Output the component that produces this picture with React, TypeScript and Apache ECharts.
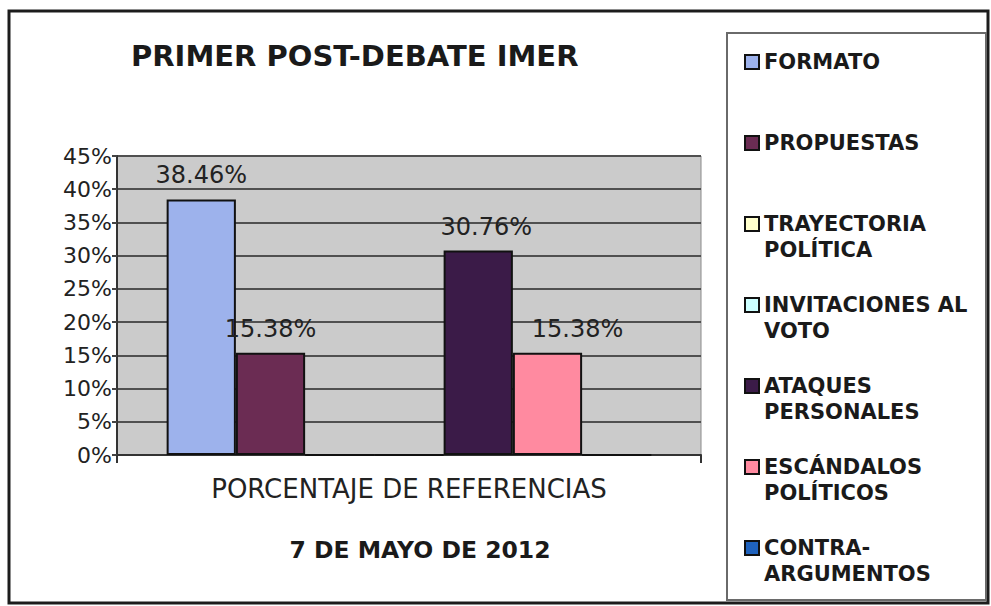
import React, { useEffect, useRef } from "react";
import * as echarts from "echarts";

const categories = ["PORCENTAJE DE REFERENCIAS"];
const seriesNames = [
  "FORMATO",
  "PROPUESTAS",
  "TRAYECTORIA POLÍTICA",
  "INVITACIONES AL VOTO",
  "ATAQUES PERSONALES",
  "ESCÁNDALOS POLÍTICOS",
  "CONTRA-ARGUMENTOS",
];
const legendLines = [
  ["FORMATO"],
  ["PROPUESTAS"],
  ["TRAYECTORIA", "POLÍTICA"],
  ["INVITACIONES AL", "VOTO"],
  ["ATAQUES", "PERSONALES"],
  ["ESCÁNDALOS", "POLÍTICOS"],
  ["CONTRA-", "ARGUMENTOS"],
];
const values = [38.46, 15.38, 0, 0, 30.76, 15.38, 0];
const colors = ["#9db2ec", "#6b2c53", "#ffffcc", "#ccffff", "#3b1b48", "#ff8aa0", "#1f62bd"];
const labelShiftX = [0, 0, 0, 0, 8, 30, 0];
const yMin = 0;
const yMax = 45;
const yStep = 5;
const titleText = "PRIMER POST-DEBATE IMER";
const dateText = "7 DE MAYO DE 2012";

const FONT = "DejaVu Sans";

export default function App() {
  const ref = useRef<HTMLDivElement>(null);
  useEffect(() => {
    if (!ref.current) return;
    const chart = echarts.init(ref.current, undefined, { renderer: "svg" });
    const legendText = (name: string) => {
      const lines = legendLines[seriesNames.indexOf(name)];
      const body = lines.length === 1 ? [lines[0], " "] : lines;
      return [" ", ...body].join("\n");
    };
    chart.setOption({
      animation: false,
      backgroundColor: "#ffffff",
      grid: {
        left: 117,
        right: 991 - 701,
        top: 156,
        bottom: 606 - 455,
        show: true,
        backgroundColor: "#cbcbcb",
        borderColor: "#8a8a8a",
        borderWidth: 1,
      },
      xAxis: {
        type: "category",
        data: categories,
        axisLine: { show: true, lineStyle: { color: "#333", width: 2 } },
        axisTick: { show: true, length: 8, lineStyle: { color: "#333", width: 2 } },
        axisLabel: {
          margin: 21,
          fontFamily: FONT,
          fontSize: 26,
          color: "#222",
        },
      },
      yAxis: {
        type: "value",
        min: yMin,
        max: yMax,
        interval: yStep,
        axisLine: { show: true, lineStyle: { color: "#333", width: 2 } },
        axisTick: { show: true, length: 5, lineStyle: { color: "#444", width: 2 } },
        splitLine: { show: true, lineStyle: { color: "#505050", width: 2 } },
        axisLabel: {
          margin: 5,
          formatter: "{value}%",
          fontFamily: FONT,
          fontSize: 22,
          color: "#222",
        },
      },
      legend: {
        orient: "vertical",
        left: 744,
        top: 23,
        padding: 0,
        itemGap: 3,
        itemWidth: 14,
        itemHeight: 14,
        icon: "rect",
        selectedMode: false,
        data: seriesNames,
        formatter: legendText,
        textStyle: {
          fontFamily: FONT,
          fontWeight: "bold",
          fontSize: 21,
          lineHeight: 26,
          color: "#1a1a1a",
        },
      },
      graphic: [
        {
          type: "rect",
          shape: { x: 9, y: 11, width: 979, height: 592 },
          style: { fill: "none", stroke: "#1c1c1c", lineWidth: 3 },
          silent: true,
        },
        {
          type: "rect",
          shape: { x: 727, y: 33, width: 259, height: 567 },
          style: { fill: "none", stroke: "#6a6a6a", lineWidth: 2 },
          silent: true,
        },
        {
          type: "text",
          x: 131,
          y: 56,
          style: {
            text: titleText,
            fontFamily: FONT,
            fontWeight: "bold",
            fontSize: 29,
            fill: "#1a1a1a",
            align: "left",
            verticalAlign: "middle",
          },
        },
        {
          type: "text",
          x: 420,
          y: 550,
          style: {
            text: dateText,
            fontFamily: FONT,
            fontWeight: "bold",
            fontSize: 23.5,
            fill: "#1a1a1a",
            align: "center",
            verticalAlign: "middle",
          },
        },
      ],
      series: seriesNames.map((name, i) => ({
        type: "bar",
        name,
        data: [values[i]],
        barGap: "0%",
        barCategoryGap: "17%",
        itemStyle: { color: colors[i], borderColor: "#111", borderWidth: 2 },
        emphasis: { disabled: true },
        label: {
          show: true,
          position: "top",
          distance: 12,
          offset: [labelShiftX[i], 0],
          formatter: (p: any) => (p.value ? Number(p.value).toFixed(2) + "%" : ""),
          fontFamily: FONT,
          fontSize: 24,
          color: "#222",
        },
      })),
    });
    return () => chart.dispose();
  }, []);
  return (
    <div
      ref={ref}
      style={{ position: "fixed", left: 0, top: 0, width: 991, height: 606, background: "#fff" }}
    />
  );
}
